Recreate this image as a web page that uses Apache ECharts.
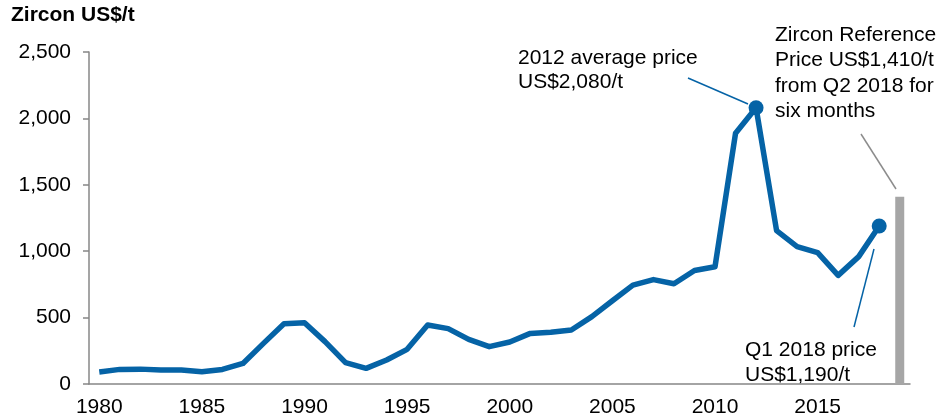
<!DOCTYPE html>
<html>
<head>
<meta charset="utf-8">
<script src="https://cdn.jsdelivr.net/npm/echarts@6/dist/echarts.min.js"></script>
<style>
html,body{margin:0;padding:0;background:#fff;}
#chart{width:941px;height:419px;}
</style>
</head>
<body>
<div id="chart"></div>
<script>
// ---- data ----
var years = [];
for (var y = 1980; y <= 2019; y++) years.push(String(y));
var zirconPrice = [90, 110, 112, 105, 105, 93, 110, 155, 306, 454,
                   462, 319, 161, 118, 181, 261, 444, 417, 336, 281,
                   316, 381, 389, 407, 507, 627, 745, 786, 755, 855,
                   883, 1888, 2080, 1155, 1034, 989, 818, 959, 1190, null];
var markerYears = ['2012', '2018'];
var referenceYear = '2019';
var referencePrice = 1410;
var yTicks = [0, 500, 1000, 1500, 2000, 2500];

var FONT = '"Liberation Sans", Arial, sans-serif';
var BLUE = '#0563a6';
var GREY_BAR = '#a6a6a6';
var AXIS = '#878787';

var lineData = zirconPrice.map(function (v, i) {
  if (markerYears.indexOf(years[i]) >= 0) {
    return { value: v, symbol: 'circle', symbolSize: 15 };
  }
  return { value: v, symbol: 'none' };
});
var barData = years.map(function (yr) { return yr === referenceYear ? referencePrice : null; });

var chart = echarts.init(document.getElementById('chart'));
chart.setOption({
  animation: false,
  backgroundColor: '#ffffff',
  grid: { left: 89, right: 31, top: 52, bottom: 35, containLabel: false },
  xAxis: {
    type: 'category',
    data: years,
    boundaryGap: true,
    axisLine: { lineStyle: { color: AXIS, width: 1.5 } },
    axisTick: { interval: 4, length: 6, lineStyle: { color: AXIS, width: 1.5 } },
    axisLabel: { interval: 4, margin: 13, fontSize: 21, color: '#000', fontFamily: FONT },
    splitLine: { show: false }
  },
  yAxis: {
    type: 'value',
    min: yTicks[0],
    max: yTicks[yTicks.length - 1],
    interval: 500,
    axisLine: { show: true, lineStyle: { color: AXIS, width: 1.5 } },
    axisTick: { show: true, length: 6, lineStyle: { color: AXIS, width: 1.5 } },
    axisLabel: {
      margin: 18, fontSize: 21, color: '#000', fontFamily: FONT,
      formatter: function (v) { return v.toLocaleString('en-US'); }
    },
    splitLine: { show: false }
  },
  series: [
    {
      type: 'bar',
      data: barData,
      barWidth: 9,
      itemStyle: { color: GREY_BAR },
      silent: true
    },
    {
      type: 'line',
      data: lineData,
      showSymbol: true,
      showAllSymbol: true,
      symbol: 'none',
      lineStyle: { color: BLUE, width: 5.5, join: 'round' },
      itemStyle: { color: BLUE },
      connectNulls: false,
      silent: true,
      z: 3
    }
  ],
  graphic: [
    { type: 'text', left: 11, top: 5,
      style: { text: 'Zircon US$/t', font: 'bold 21px ' + FONT, fill: '#000' } },
    { type: 'text', x: 518, y: 46.5,
      style: { text: '2012 average price\nUS$2,080/t', font: '21px ' + FONT, lineHeight: 24, fill: '#000', verticalAlign: 'top' } },
    { type: 'line', shape: { x1: 688, y1: 78, x2: 748, y2: 104 },
      style: { stroke: BLUE, lineWidth: 1.5 } },
    { type: 'text', x: 775, y: 22,
      style: { text: 'Zircon Reference\nPrice US$1,410/t\nfrom Q2 2018 for\nsix months', font: '21px ' + FONT, lineHeight: 25.5, fill: '#000', verticalAlign: 'top' } },
    { type: 'line', shape: { x1: 861, y1: 134, x2: 896, y2: 189 },
      style: { stroke: '#8c8c8c', lineWidth: 1.5 } },
    { type: 'text', x: 745, y: 337.5,
      style: { text: 'Q1 2018 price\nUS$1,190/t', font: '21px ' + FONT, lineHeight: 25, fill: '#000', verticalAlign: 'top' } },
    { type: 'line', shape: { x1: 874, y1: 249, x2: 854, y2: 327 },
      style: { stroke: BLUE, lineWidth: 1.5 } }
  ]
});
</script>
</body>
</html>
